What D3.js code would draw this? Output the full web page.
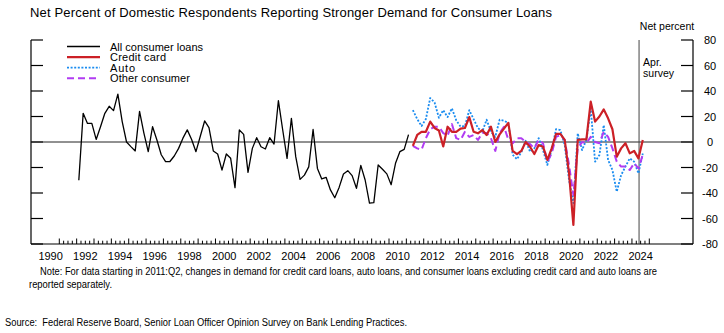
<!DOCTYPE html>
<html>
<head>
<meta charset="utf-8">
<script src="https://cdn.jsdelivr.net/npm/d3@7"></script>
<style>
  body { margin: 0; background: #fff; }
  text { font-family: "Liberation Sans", Arial, sans-serif; fill: #000; }
</style>
</head>
<body>
<div id="chart"></div>
<script>
// quarterly values, net percent
var allStart = 1992.125;   // 1992:Q1
var allLoans = [-30, 22.5, 14.6, 14.6, 2, 12, 22.5, 28, 24.6, 37.5,
  16, 0, -3.6, -7, 24, 7, -7.5, 12, 1.6, -10,
  -15.4, -15.3, -11, -5, 3, 9.5, 2, -7.6, 4.5, 16.5,
  11.2, -7, -9.4, -22, -9.4, -12.8, -35.8, 9.4, 6, -23.8,
  -5, 3.4, -3.7, -5.5, 3.4, -1.6, 32.4, 9.4, -12.8, 18.6,
  -11.5, -29.3, -26, -19.5, 9.8, -20.7, -29, -27.7, -37.6, -43.7,
  -35.6, -25.1, -22.5, -26.4, -36.3, -18.3, -29.8, -48, -47.6, -18,
  -21.4, -25, -33.5, -16.7, -7.6, -5.8, 5.8];

var splitStart = 2011.375; // 2011:Q2
var creditCard = [-3, 5.5, 8, 8, 16, 11, 9, -3.5, 12, 8,
  8, 10.5, 11, 19.5, 8, 6.8, 9.4, 5.5, 12, 0,
  6, 10.5, 15, -7, -9.5, -7, 0, -3.7, -9.4, -2.4,
  -3.7, -14, -5, 6.3, 6.3, 1.6, -24.6, -65, 1.6, 2,
  2, 31.6, 16, 20, 25.6, 18.6, 10, -11.5, -5, -1,
  -8.9, -7, -12.8, 1.6];
var auto = [25, 18, 12.5, 18, 34.5, 31, 19, 25, 19.5, 26.4,
  17, 12, 12.5, 25, 18, 11, 8, 17.5, 8, 4,
  17.5, 16.7, 15, -10, -13.5, -8, 1, -7.6, -5, 3,
  -6.3, -18, -6.3, 10, 9.4, -2.4, -30, -48, 6.8, -6.3,
  1.6, 26.4, -15.4, -10.2, 13.3, -14, -22, -39, -26, -19.3,
  -12.8, -15.4, -24.6, -9];
var otherConsumer = [-3, -5, -6, 3, 10, 12, 12, 7, 5, 14,
  3, 1.6, 8, 4, 5.5, 1.6, 7, 7, 3, -7,
  7, 12, 2, -1, 3, 3, 0, -1.6, -5, 1.6,
  -1, -15.4, -9, 4, 5.5, 1.6, -18, -41.6, -5, 0,
  -1, 4, 0, -1, 8, 4, -5, -15.4, -19.3, -19.3,
  -22, -16.7, -20.7, -10];

var surveyDate = 2024.41;
var yTicks = [80, 60, 40, 20, 0, -20, -40, -60, -80];
var yearLabels = d3.range(1990, 2025, 2);
var tickYears = d3.range(1991, 2025.01, 0.25);

var legendNames = ["All consumer loans", "Credit card", "Auto", "Other consumer"];
var legendColors = ["#000000", "#cc2026", "#1a8cf0", "#b13cf2"];
var legendDash = [null, null, "2,1.6", "7,4"];
var legendWidth = [1.3, 2.2, 1.8, 2];

var W = 724, H = 333;
var plotL = 31, plotR = 693, plotT = 40, plotB = 244;

var svg = d3.select("#chart").append("svg")
    .attr("width", W)
    .attr("height", H);

var x = d3.scaleLinear().domain([1991, 2025]).range([59.3, 649.3]);
var y = d3.scaleLinear().domain([-80, 80]).range([plotB, plotT]);

// title
svg.append("text")
    .attr("x", 30).attr("y", 17)
    .style("font-size", "13px")
    .attr("textLength", 522)
    .text("Net Percent of Domestic Respondents Reporting Stronger Demand for Consumer Loans");

svg.append("text")
    .attr("x", 667).attr("y", 30)
    .attr("text-anchor", "middle")
    .style("font-size", "10.5px")
    .text("Net percent");

// frame
svg.append("line").attr("x1", plotL).attr("x2", plotL).attr("y1", plotT).attr("y2", plotB)
    .attr("stroke", "#000").attr("stroke-width", 1.2);
svg.append("line").attr("x1", plotR).attr("x2", plotR).attr("y1", plotT).attr("y2", plotB)
    .attr("stroke", "#000").attr("stroke-width", 1.2);
svg.append("line").attr("x1", plotL).attr("x2", plotR).attr("y1", plotB).attr("y2", plotB)
    .attr("stroke", "#000").attr("stroke-width", 1.2);

// y ticks both sides
svg.selectAll(".ytl").data(yTicks).enter().append("line")
    .attr("x1", plotL).attr("x2", plotL + 12)
    .attr("y1", d => y(d)).attr("y2", d => y(d))
    .attr("stroke", "#000").attr("stroke-width", 1.2);
svg.selectAll(".ytr").data(yTicks).enter().append("line")
    .attr("x1", plotR - 12).attr("x2", plotR)
    .attr("y1", d => y(d)).attr("y2", d => y(d))
    .attr("stroke", "#000").attr("stroke-width", 1.2);
svg.selectAll(".ylab").data(yTicks).enter().append("text")
    .attr("x", 710).attr("y", d => y(d) + 4)
    .attr("text-anchor", "middle")
    .style("font-size", "11px")
    .text(d => d);

// x ticks, upward from the axis
svg.selectAll(".xt").data(tickYears).enter().append("line")
    .attr("x1", d => x(d)).attr("x2", d => x(d))
    .attr("y1", plotB)
    .attr("y2", d => Math.abs(d - Math.round(d)) < 0.01 ? plotB - 5.5 : plotB - 3.3)
    .attr("stroke", "#000").attr("stroke-width", 1);
svg.selectAll(".xlab").data(yearLabels).enter().append("text")
    .attr("x", d => x(d + 0.5)).attr("y", 260)
    .attr("text-anchor", "middle")
    .style("font-size", "11px")
    .text(d => d);

// zero line
svg.append("line").attr("x1", plotL).attr("x2", plotR).attr("y1", y(0)).attr("y2", y(0))
    .attr("stroke", "#222").attr("stroke-width", 1);

// survey marker
svg.append("line").attr("x1", x(surveyDate)).attr("x2", x(surveyDate))
    .attr("y1", plotT).attr("y2", plotB)
    .attr("stroke", "#444").attr("stroke-width", 1);
svg.append("text").attr("x", x(surveyDate) + 4).attr("y", 66)
    .style("font-size", "10.5px").text("Apr.");
svg.append("text").attr("x", x(surveyDate) + 4).attr("y", 77)
    .style("font-size", "10.5px").text("survey");

function drawSeries(values, start, k){
    var line = d3.line()
        .x((d, i) => x(start + i / 4))
        .y(d => y(d));
    svg.append("path")
        .datum(values)
        .attr("fill", "none")
        .attr("stroke", legendColors[k])
        .attr("stroke-width", legendWidth[k])
        .attr("stroke-dasharray", legendDash[k])
        .attr("stroke-linejoin", "round")
        .attr("d", line);
}

drawSeries(allLoans, allStart, 0);
drawSeries(auto, splitStart, 2);
drawSeries(otherConsumer, splitStart, 3);
drawSeries(creditCard, splitStart, 1);

// legend
var leg = svg.append("g");
legendNames.forEach(function(name, k){
    var ly = 46.5 + k * 10.6;
    leg.append("line")
        .attr("x1", 67).attr("x2", 100).attr("y1", ly).attr("y2", ly)
        .attr("stroke", legendColors[k])
        .attr("stroke-width", legendWidth[k])
        .attr("stroke-dasharray", legendDash[k]);
    leg.append("text")
        .attr("x", 110).attr("y", ly + 4)
        .style("font-size", "11px")
        .attr("textLength", [93, 56, 25, 80][k])
        .text(name);
});

// notes
svg.append("text")
    .attr("x", 40).attr("y", 275)
    .style("font-size", "10px")
    .attr("textLength", 617).attr("lengthAdjust", "spacingAndGlyphs")
    .text("Note: For data starting in 2011:Q2, changes in demand for credit card loans, auto loans, and consumer loans excluding credit card and auto loans are");
svg.append("text")
    .attr("x", 29).attr("y", 288)
    .style("font-size", "10px")
    .attr("textLength", 83).attr("lengthAdjust", "spacingAndGlyphs")
    .text("reported separately.");
svg.append("text")
    .attr("x", 5).attr("y", 326)
    .style("font-size", "10px")
    .attr("textLength", 402).attr("lengthAdjust", "spacingAndGlyphs")
    .style("white-space", "pre")
    .text("Source:  Federal Reserve Board, Senior Loan Officer Opinion Survey on Bank Lending Practices.");
</script>
</body>
</html>
